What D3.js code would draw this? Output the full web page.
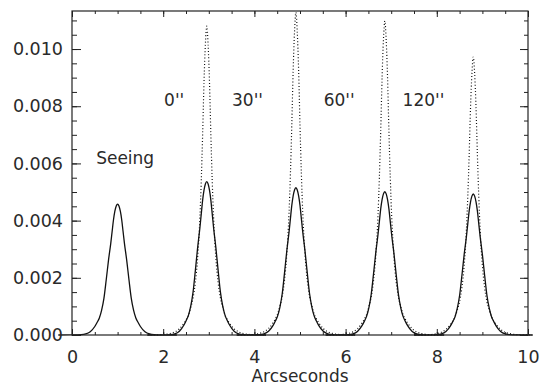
<!DOCTYPE html>
<html lang="en">
<head>
<meta charset="UTF-8">
<title>Seeing profiles</title>
<script src="https://d3js.org/d3.v7.min.js"></script>
<style>
  body { margin: 0; background: #fff; }
  svg { display: block; }
  text { font-family: "DejaVu Sans", sans-serif; fill: #2a2a2a; }
  .tick line { stroke: #222; stroke-width: 1; }
</style>
</head>
<body>
<div id="chart"></div>
<script>
  // peak centres (arcsec) and peak heights
  var peakCenters = [1.0, 2.955, 4.91, 6.86, 8.80];
  var solidHeights = [0.00458, 0.00536, 0.00515, 0.00501, 0.00493];
  var dottedHeights = [null, 0.0108, 0.01128, 0.01098, 0.00972];

  // one-sided profile shape (offset from centre in arcsec, value / peak)
  var profileOffsets = [0, 0.03, 0.06, 0.09, 0.12, 0.15, 0.2, 0.25, 0.3, 0.35, 0.4, 0.45, 0.5, 0.6, 0.7, 0.8, 1.0, 1.3];
  var solidProfile   = [1, 0.985, 0.945, 0.88, 0.79, 0.70, 0.57, 0.42, 0.28, 0.19, 0.13, 0.095, 0.065, 0.025, 0.008, 0.003, 0.001, 0];
  var dottedProfile  = [1, 0.94, 0.82, 0.65, 0.50, 0.38, 0.25, 0.17, 0.12, 0.09, 0.065, 0.05, 0.038, 0.02, 0.01, 0.005, 0.001, 0];

  var xTicks = [0, 2, 4, 6, 8, 10];
  var yTicks = [0, 0.002, 0.004, 0.006, 0.008, 0.010];

  // annotations (data coordinates)
  var labelText = ["Seeing", "0''", "30''", "60''", "120''"];
  var labelX = [0.53, 2.02, 3.51, 5.52, 7.25];
  var labelY = [0.00599, 0.00802, 0.00802, 0.00802, 0.00802];

  var margin = { top: 11, left: 72 };
  var width = 456, height = 324;

  var svg = d3.select("#chart").append("svg")
    .attr("width", 542)
    .attr("height", 387);

  var g = svg.append("g")
    .attr("transform", "translate(" + margin.left + "," + margin.top + ")");

  var x = d3.scaleLinear().domain([0, 10]).range([0, width]);
  var y = d3.scaleLinear().domain([0, 0.01133]).range([height, 0]);

  // build a full series: baseline, then each peak from its profile
  function buildSeries(heights, profile) {
    var pts = [];
    heights.forEach(function (h, i) {
      if (h == null) return;
      var c = peakCenters[i];
      for (var k = profileOffsets.length - 1; k > 0; k--) {
        pts.push([c - profileOffsets[k], h * profile[k]]);
      }
      for (var k = 0; k < profileOffsets.length; k++) {
        pts.push([c + profileOffsets[k], h * profile[k]]);
      }
    });
    if (heights[0] != null) pts.unshift([0, 0]);
    pts.push([10, 0]);
    return pts;
  }

  var solidPts = buildSeries(solidHeights, solidProfile);
  var dottedPts = buildSeries(dottedHeights, dottedProfile);

  var line = d3.line()
    .x(d => x(d[0]))
    .y(d => y(d[1]))
    .curve(d3.curveMonotoneX);

  g.append("path")
    .attr("d", line(dottedPts))
    .attr("fill", "none")
    .attr("stroke", "#111")
    .attr("stroke-width", 1.2)
    .attr("stroke-dasharray", "1,2.2");

  g.append("path")
    .attr("d", line(solidPts))
    .attr("fill", "none")
    .attr("stroke", "#111")
    .attr("stroke-width", 1.3);

  // axes: major ticks with labels, minor ticks without
  function addAxis(axis, tr) {
    var a = g.append("g").attr("transform", tr || null).call(axis);
    a.select(".domain").remove();
    a.selectAll("text").style("font-size", "17.5px");
    return a;
  }

  addAxis(d3.axisBottom(x).tickValues(xTicks).tickSize(-6).tickPadding(16).tickFormat(d3.format("d")), "translate(0," + height + ")");
  addAxis(d3.axisBottom(x).ticks(20).tickSize(-3).tickFormat(""), "translate(0," + height + ")");
  addAxis(d3.axisTop(x).tickValues(xTicks).tickSize(-6).tickFormat(""));
  addAxis(d3.axisTop(x).ticks(20).tickSize(-3).tickFormat(""));

  addAxis(d3.axisLeft(y).tickValues(yTicks).tickSize(-9).tickPadding(9).tickFormat(d3.format(".3f")));
  addAxis(d3.axisLeft(y).ticks(20).tickSize(-5).tickFormat(""));
  addAxis(d3.axisRight(y).tickValues(yTicks).tickSize(-8).tickFormat(""), "translate(" + width + ",0)");
  addAxis(d3.axisRight(y).ticks(20).tickSize(-4).tickFormat(""), "translate(" + width + ",0)");

  // frame
  g.append("rect")
    .attr("width", width)
    .attr("height", height)
    .attr("fill", "none")
    .attr("stroke", "#222")
    .attr("stroke-width", 1.2);

  g.append("text")
    .attr("x", width / 2)
    .attr("y", 382 - margin.top)
    .attr("text-anchor", "middle")
    .style("font-size", "17px")
    .text("Arcseconds");

  g.selectAll(".label")
    .data(labelText)
    .enter().append("text")
    .attr("class", "label")
    .attr("x", (d, i) => x(labelX[i]))
    .attr("y", (d, i) => y(labelY[i]))
    .style("font-size", "17px")
    .text(d => d);
</script>
</body>
</html>
